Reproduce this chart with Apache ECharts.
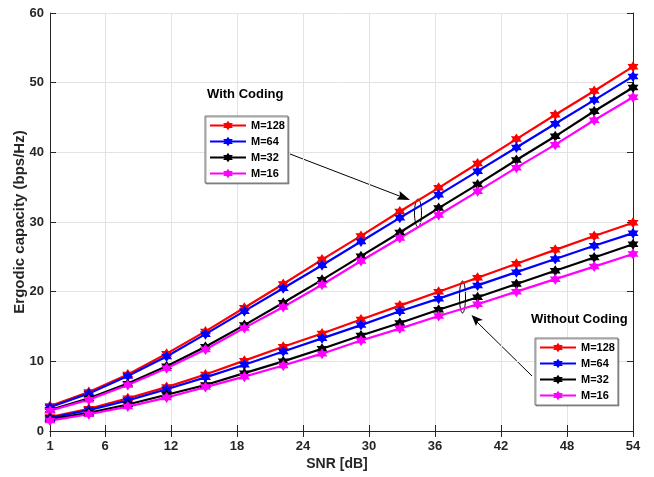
<!DOCTYPE html>
<html>
<head>
<meta charset="utf-8">
<script src="https://cdn.jsdelivr.net/npm/echarts@6/dist/echarts.min.js"></script>
<style>
  html, body { margin: 0; padding: 0; background: #fff; }
  #chart { width: 654px; height: 477px; }
</style>
</head>
<body>
<div id="chart"></div>
<script>
  // SNR points (x)
  var snr = [1, 4.53, 8.07, 11.6, 15.13, 18.67, 22.2, 25.73, 29.27, 32.8, 36.33, 39.87, 43.4, 46.93, 50.47, 54];
  var xTicks = [1, 6, 12, 18, 24, 30, 36, 42, 48, 54];

  // with coding
  var coded128 = [3.6, 5.6, 8.1, 11.1, 14.3, 17.7, 21.1, 24.6, 28.0, 31.5, 34.9, 38.4, 41.9, 45.4, 48.8, 52.3];
  var coded64  = [3.4, 5.4, 7.9, 10.7, 13.9, 17.2, 20.5, 23.8, 27.2, 30.6, 33.9, 37.3, 40.7, 44.1, 47.5, 50.9];
  var coded32  = [3.0, 4.7, 6.8, 9.3, 12.1, 15.2, 18.4, 21.7, 25.1, 28.5, 32.0, 35.4, 38.9, 42.3, 45.9, 49.3];
  var coded16  = [2.9, 4.5, 6.6, 9.0, 11.7, 14.8, 17.8, 21.0, 24.4, 27.7, 31.0, 34.4, 37.8, 41.1, 44.6, 47.9];

  // without coding
  var uncoded128 = [2.0, 3.2, 4.7, 6.3, 8.1, 10.1, 12.1, 14.0, 16.0, 18.0, 20.0, 22.0, 24.0, 26.0, 28.0, 29.9];
  var uncoded64  = [1.9, 3.0, 4.4, 6.0, 7.7, 9.5, 11.4, 13.3, 15.2, 17.2, 19.0, 20.9, 22.8, 24.7, 26.6, 28.4];
  var uncoded32  = [1.7, 2.6, 3.8, 5.2, 6.6, 8.3, 10.0, 11.8, 13.7, 15.5, 17.4, 19.2, 21.1, 23.0, 24.9, 26.8];
  var uncoded16  = [1.5, 2.4, 3.5, 4.8, 6.3, 7.8, 9.4, 11.1, 13.0, 14.7, 16.5, 18.2, 20.0, 21.8, 23.6, 25.4];

  var names = ['M=128', 'M=64', 'M=32', 'M=16'];
  var colors = ['#ff0000', '#0000ff', '#000000', '#ff00ff'];

  var FONT = "'Liberation Sans', Arial, sans-serif";
  var star = 'path://M50 0 L64.4 25 L93.3 25 L78.9 50 L93.3 75 L64.4 75 L50 100 L35.6 75 L6.7 75 L21.1 50 L6.7 25 L35.6 25 Z';

  function makeSeries(name, color, ys) {
    return {
      name: name,
      type: 'line',
      symbol: star,
      symbolSize: 11,
      showSymbol: true,
      lineStyle: { width: 2.2, color: color },
      itemStyle: { color: color },
      data: snr.map(function (x, i) { return [x, ys[i]]; })
    };
  }

  var legendBox = {
    orient: 'vertical',
    selectedMode: false,
    backgroundColor: '#fff',
    borderColor: '#777',
    borderWidth: 1,
    shadowColor: 'rgba(0,0,0,0.35)',
    shadowOffsetX: 1,
    shadowOffsetY: 1,
    padding: [4, 3, 4, 4],
    itemWidth: 36,
    itemHeight: 12,
    itemGap: 5,
    textStyle: { fontFamily: FONT, fontWeight: 'bold', fontSize: 11, color: '#000' },
    data: names
  };

  var chart = echarts.init(document.getElementById('chart'));
  var option = {
    animation: false,
    backgroundColor: '#fff',
    color: colors,
    grid: { left: 50, top: 13, right: 21, bottom: 46 },
    legend: [
      Object.assign({}, legendBox, { left: 205, top: 116 }),
      Object.assign({}, legendBox, { left: 535, top: 338 })
    ],
    xAxis: [
      {
        type: 'value',
        min: 1,
        max: 54,
        name: 'SNR [dB]',
        nameLocation: 'middle',
        nameGap: 26,
        nameMoveOverlap: false,
        nameTextStyle: { fontFamily: FONT, fontWeight: 'bold', fontSize: 14, color: '#262626', padding: [0, 9, 0, 0] },
        axisLine: { show: true, lineStyle: { color: '#262626', width: 1 } },
        axisTick: { show: true, inside: true, length: 6, customValues: xTicks, lineStyle: { color: '#262626' } },
        axisLabel: { customValues: xTicks, margin: 9, fontFamily: FONT, fontWeight: 'bold', fontSize: 13, color: '#262626' },
        splitLine: { show: true, lineStyle: { color: '#e3e3e3', width: 1 } }
      },
      {
        type: 'value',
        position: 'top',
        min: 1,
        max: 54,
        axisLine: { show: true, lineStyle: { color: '#262626', width: 1 } },
        axisTick: { show: true, inside: true, length: 6, customValues: xTicks, lineStyle: { color: '#262626' } },
        axisLabel: { show: false },
        splitLine: { show: false }
      }
    ],
    yAxis: [
      {
        type: 'value',
        min: 0,
        max: 60,
        interval: 10,
        name: 'Ergodic capacity (bps/Hz)',
        nameLocation: 'middle',
        nameGap: 23,
        nameMoveOverlap: false,
        nameTextStyle: { fontFamily: FONT, fontWeight: 'bold', fontSize: 15, color: '#262626' },
        axisLine: { show: true, lineStyle: { color: '#262626', width: 1 } },
        axisTick: { show: true, inside: true, length: 6, lineStyle: { color: '#262626' } },
        axisLabel: { margin: 6, fontFamily: FONT, fontWeight: 'bold', fontSize: 13, color: '#262626' },
        splitLine: { show: true, lineStyle: { color: '#e3e3e3', width: 1 } }
      },
      {
        type: 'value',
        position: 'right',
        min: 0,
        max: 60,
        interval: 10,
        axisLine: { show: true, lineStyle: { color: '#262626', width: 1 } },
        axisTick: { show: true, inside: true, length: 6, lineStyle: { color: '#262626' } },
        axisLabel: { show: false },
        splitLine: { show: false }
      }
    ],
    series: [
      makeSeries(names[0], colors[0], coded128),
      makeSeries(names[1], colors[1], coded64),
      makeSeries(names[2], colors[2], coded32),
      makeSeries(names[3], colors[3], coded16),
      makeSeries(names[0], colors[0], uncoded128),
      makeSeries(names[1], colors[1], uncoded64),
      makeSeries(names[2], colors[2], uncoded32),
      makeSeries(names[3], colors[3], uncoded16)
    ],
    graphic: [
      { type: 'text', left: 207, top: 88, style: { text: 'With Coding', font: 'bold 13px ' + FONT, fill: '#000' } },
      { type: 'text', left: 531, top: 313, style: { text: 'Without Coding', font: 'bold 13px ' + FONT, fill: '#000' } },
      // upper annotation: arrow + ellipse
      { type: 'line', shape: { x1: 290, y1: 154, x2: 402, y2: 197 }, style: { stroke: '#000', lineWidth: 1 } },
      { type: 'polygon', shape: { points: [[410, 200], [396.5, 199.5], [400, 196], [399.5, 191]] }, style: { fill: '#000' } },
      { type: 'ellipse', shape: { cx: 418, cy: 213, rx: 3.5, ry: 14 }, style: { fill: 'none', stroke: '#000', lineWidth: 1 } },
      // lower annotation: arrow + ellipse
      { type: 'line', shape: { x1: 532, y1: 376, x2: 477, y2: 322 }, style: { stroke: '#000', lineWidth: 1 } },
      { type: 'polygon', shape: { points: [[471.5, 315], [483, 320], [478, 321], [476, 326]] }, style: { fill: '#000' } },
      { type: 'ellipse', shape: { cx: 462.5, cy: 297, rx: 3, ry: 16 }, style: { fill: 'none', stroke: '#000', lineWidth: 1 } }
    ]
  };
  chart.setOption(option);
</script>
</body>
</html>
